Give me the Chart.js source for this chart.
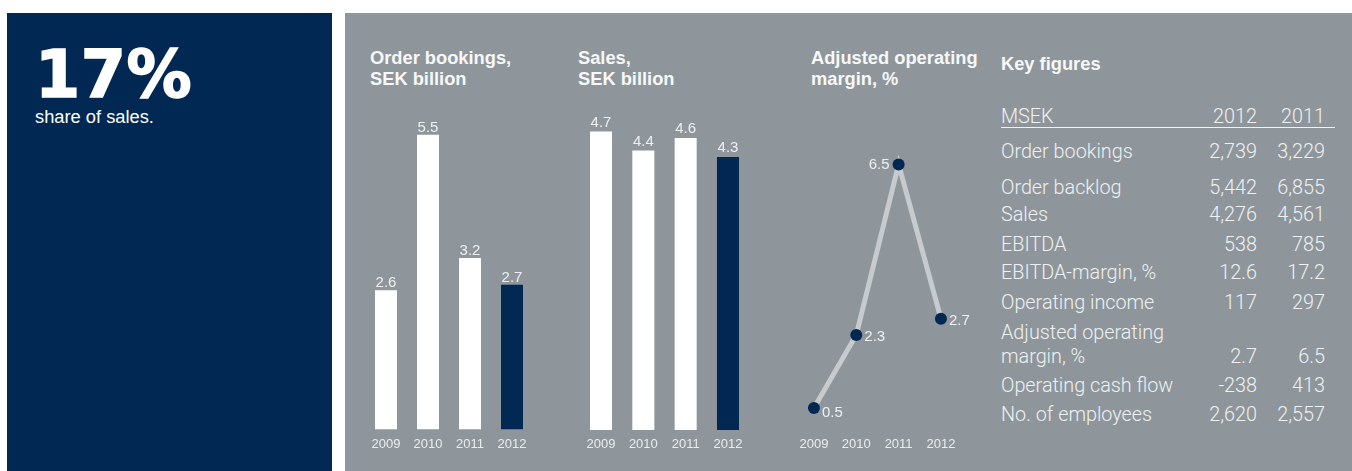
<!DOCTYPE html>
<html>
<head>
<meta charset="utf-8">
<script src="https://cdn.jsdelivr.net/npm/chart.js@4.4.1/dist/chart.umd.min.js"></script>
<style>
  html, body { margin: 0; padding: 0; background: #ffffff; width: 1352px; height: 471px; overflow: hidden; }
  body { position: relative; font-family: "Liberation Sans", Arial, sans-serif; }
  .panel { position: absolute; }
  #navy { left: 7px; top: 13px; width: 325px; height: 458px; background: #002852; }
  #grey { left: 345px; top: 13px; width: 1007px; height: 458px; background: #8e969b; }
  .abs { position: absolute; white-space: nowrap; }
  .big { left: 35px; top: 41.7px; font-family: "DejaVu Sans", sans-serif; font-weight: bold; font-size: 65px; line-height: 65px; color: #ffffff; -webkit-text-stroke: 1.6px #ffffff; letter-spacing: 0.5px; }
  .sub { left: 35px; top: 107.5px; font-size: 18.3px; line-height: 18px; color: #ffffff; }
  .title { font-weight: bold; font-size: 18.3px; line-height: 21.5px; color: #f7f8f8; }
  canvas { position: absolute; }
  .kf { font-family: Roboto, "Liberation Sans", sans-serif; font-weight: 300; font-size: 19.8px; line-height: 19.8px; color: #eff1f2; }
  #rule { position: absolute; left: 1001px; top: 127px; width: 334px; height: 1px; background: #eff1f2; }
</style>
</head>
<body>
<div id="navy" class="panel"></div>
<div id="grey" class="panel"></div>

<div class="abs big">17%</div>
<div class="abs sub">share of sales.</div>

<div class="abs title" style="left:370px; top:46.5px;">Order bookings,<br>SEK billion</div>
<div class="abs title" style="left:578px; top:46.5px;">Sales,<br>SEK billion</div>
<div class="abs title" style="left:811px; top:46.5px;">Adjusted operating<br>margin, %</div>
<div class="abs title" style="left:1001px; top:53px;">Key figures</div>

<canvas id="orders" width="190" height="381" style="left:355px; top:90px;"></canvas>
<canvas id="sales" width="190" height="381" style="left:570px; top:90px;"></canvas>
<canvas id="margin" width="190" height="381" style="left:783px; top:90px;"></canvas>

<div id="kf"></div>
<div id="rule"></div>

<script>
// ---- data ----
const years = ['2009', '2010', '2011', '2012'];
const orderBookings = [2.6, 5.5, 3.2, 2.7];     // SEK billion
const sales = [4.7, 4.4, 4.6, 4.3];             // SEK billion
const adjustedMargin = [0.5, 2.3, 6.5, 2.7];    // %

const kfHeader = ['MSEK', '2012', '2011'];
const kfLabels = ['Order bookings', 'Order backlog', 'Sales', 'EBITDA', 'EBITDA-margin, %',
                  'Operating income', 'Adjusted operating\nmargin, %', 'Operating cash flow', 'No. of employees'];
const kf2012 = ['2,739', '5,442', '4,276', '538', '12.6', '117', '2.7', '-238', '2,620'];
const kf2011 = ['3,229', '6,855', '4,561', '785', '17.2', '297', '6.5', '413', '2,557'];

// ---- styling ----
const NAVY = '#002852';
const WHITE = '#ffffff';
const LABEL = '#eef0f1';
const YEAR = '#eaedee';
const LINE = '#c8cbcd';
const FONT = '"Liberation Sans", Arial, sans-serif';

// Draws the year captions under each category and the value labels on the marks.
const annotate = {
  id: 'annotate',
  afterDatasetsDraw(chart, args, o) {
    const { ctx, chartArea } = chart;
    const xs = chart.scales.x;
    const meta = chart.getDatasetMeta(0);
    const data = chart.data.datasets[0].data;
    ctx.save();
    ctx.textBaseline = 'alphabetic';

    ctx.font = '13px ' + FONT;
    ctx.fillStyle = YEAR;
    ctx.textAlign = 'center';
    chart.data.labels.forEach((lab, i) => {
      ctx.fillText(lab, xs.getPixelForValue(i), chartArea.bottom + o.yearGap);
    });

    ctx.font = '15px ' + FONT;
    ctx.fillStyle = LABEL;
    const peak = Math.max(...data);
    meta.data.forEach((el, i) => {
      const txt = data[i].toFixed(1);
      if (o.mode === 'bar') {
        ctx.textAlign = 'center';
        ctx.fillText(txt, el.x, el.y - o.valueGap);
      } else if (data[i] === peak) {
        ctx.textAlign = 'right';
        ctx.fillText(txt, el.x - 9, el.y + 5);
      } else {
        ctx.textAlign = 'left';
        ctx.fillText(txt, el.x + 8, el.y + (i === 0 ? 8.5 : 6));
      }
    });
    ctx.restore();
  }
};

const common = {
  responsive: false,
  animation: false,
  devicePixelRatio: 1,
  events: []
};

function barChart(id, values, o) {
  return new Chart(document.getElementById(id), {
    type: 'bar',
    data: {
      labels: years,
      datasets: [{
        data: values,
        backgroundColor: c => (c.dataIndex === values.length - 1 ? NAVY : WHITE),
        borderWidth: 0,
        barPercentage: o.barPct,
        categoryPercentage: 1
      }]
    },
    options: Object.assign({}, common, {
      layout: { padding: o.padding },
      plugins: {
        legend: { display: false },
        tooltip: { enabled: false },
        annotate: { mode: 'bar', yearGap: o.yearGap, valueGap: o.valueGap }
      },
      scales: {
        x: { display: false },
        y: { display: false, min: 0, max: o.max }
      }
    }),
    plugins: [annotate]
  });
}

barChart('orders', orderBookings, {
  barPct: 22 / 42, max: 6, valueGap: 3, yearGap: 18.8,
  padding: { left: 10, right: 12, top: 17.9, bottom: 41.5 }
});

barChart('sales', sales, {
  barPct: 22 / 42.3, max: 5, valueGap: 4.5, yearGap: 18.3,
  padding: { left: 9.85, right: 10.85, top: 22.5, bottom: 41 }
});

new Chart(document.getElementById('margin'), {
  type: 'line',
  data: {
    labels: years,
    datasets: [{
      data: adjustedMargin,
      borderColor: LINE,
      borderWidth: 5,
      tension: 0,
      fill: false,
      pointRadius: 6,
      pointBackgroundColor: NAVY,
      pointBorderWidth: 0
    }]
  },
  options: Object.assign({}, common, {
    layout: { padding: { left: 9.8, right: 10.9, top: 13.5, bottom: 42.7 } },
    plugins: {
      legend: { display: false },
      tooltip: { enabled: false },
      annotate: { mode: 'line', yearGap: 19.2 }
    },
    scales: {
      x: { display: false, offset: true },
      y: { display: false, min: 0, max: 8 }
    }
  }),
  plugins: [annotate]
});

// ---- key figures table ----
const kfBox = document.getElementById('kf');
const COL_LABEL = 1001, COL_2012 = 1257, COL_2011 = 1325;
const ASC = 15.2;        // baseline offset inside a 19.8px line box
const LINE_STEP = 23.4;  // spacing of wrapped label lines
const headerBase = 122.3;
const rowBase = [156.7, 192.7, 220, 250, 278.3, 308.3, 361.7, 391, 420];

function put(text, x, base, right) {
  const d = document.createElement('div');
  d.className = 'abs kf';
  d.textContent = text;
  d.style.top = (base - ASC) + 'px';
  if (right) d.style.right = (1352 - x) + 'px';
  else d.style.left = x + 'px';
  kfBox.appendChild(d);
}

put(kfHeader[0], COL_LABEL, headerBase, false);
put(kfHeader[1], COL_2012, headerBase, true);
put(kfHeader[2], COL_2011, headerBase, true);

kfLabels.forEach((lab, i) => {
  const lines = lab.split('\n');
  lines.forEach((ln, k) => put(ln, COL_LABEL, rowBase[i] - (lines.length - 1 - k) * LINE_STEP, false));
  put(kf2012[i], COL_2012, rowBase[i], true);
  put(kf2011[i], COL_2011, rowBase[i], true);
});
</script>
</body>
</html>
